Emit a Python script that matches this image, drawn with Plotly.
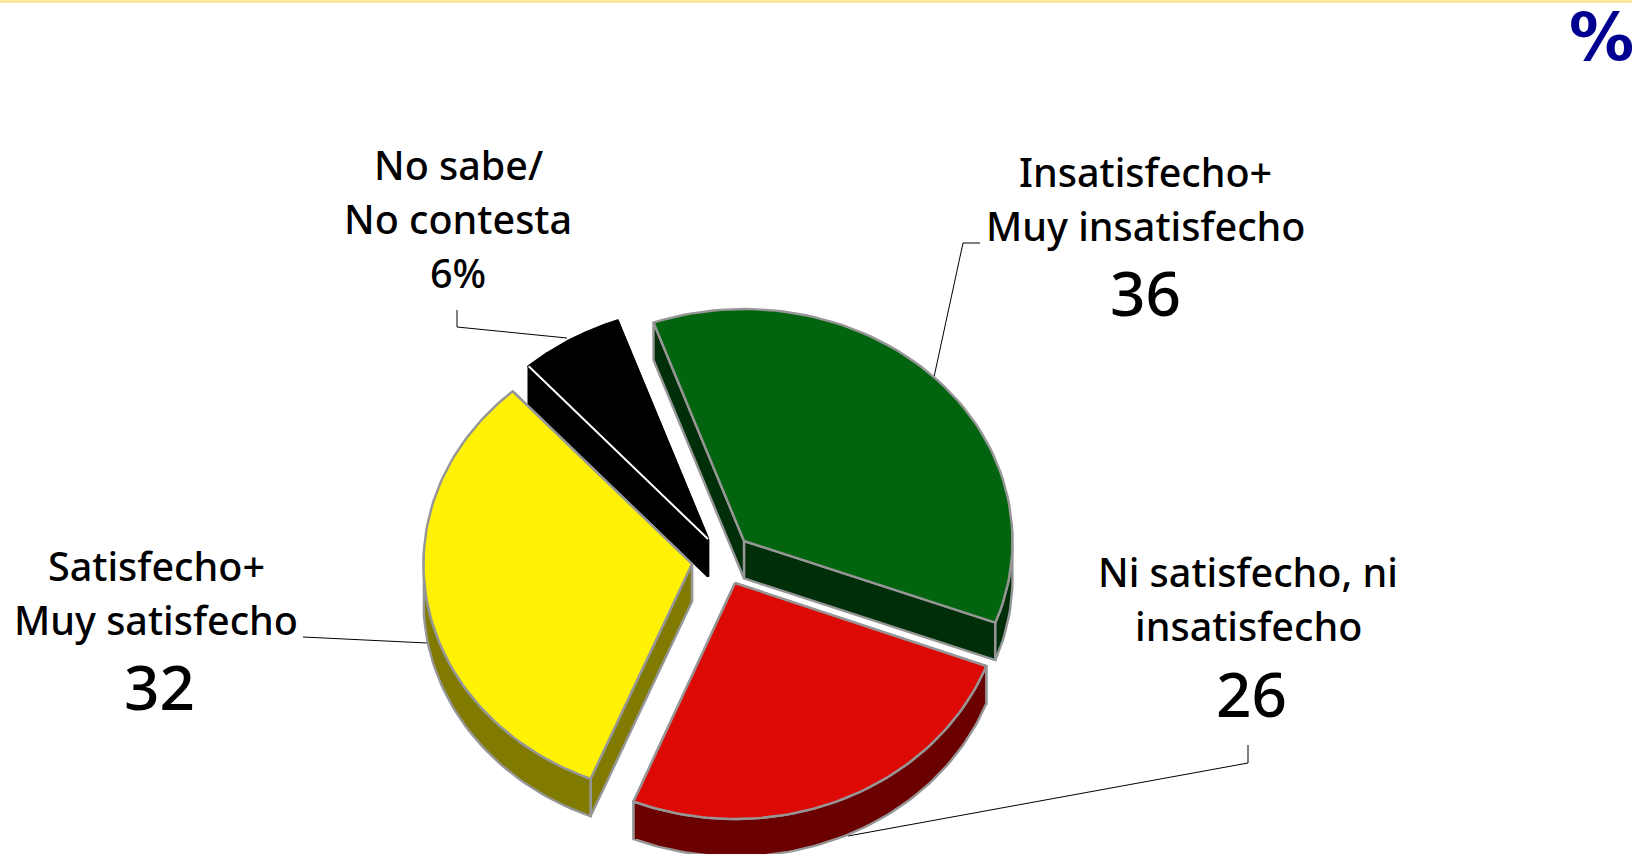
import numpy as np
import plotly.graph_objects as go

# ---- data ----
categories = ["Insatisfecho+<br>Muy insatisfecho", "Ni satisfecho, ni<br>insatisfecho",
              "Satisfecho+<br>Muy satisfecho", "No sabe/<br>No contesta"]
values = [36, 26, 32, 6]
value_labels = ["36", "26", "32", "6%"]

# ---- styling / layout constants (page pixels) ----
W, H = 1632, 854
top_colors = ["#036410", "#dd0904", "#fff205", "#000000"]
side_colors = ["#002e08", "#6b0000", "#807a00", "#000000"]
edge_colors = ["#969696", "#969696", "#969696", "#000000"]
apexes = [(744, 541), (735, 583), (692, 564), (708, 539)]
RX, DEPTH = 268.5, 37.5
slice_ry = [232, 236, 232, 232]
START_DEG = 340.3
# small perspective correction of each slice's end boundary, degrees
boundary_nudge = [0.7, -1.3, -0.6, 0.0]
FONT = "Noto Sans"

fig = go.Figure()
fracs = np.array(values) / sum(values)
ends = START_DEG + 360 * np.cumsum(fracs) + np.array(boundary_nudge)
starts = np.r_[START_DEG, ends[:-1]]
starts, ends = np.radians(starts), np.radians(ends)

def poly(x, y, fill, line, width=2.4):
    fig.add_trace(go.Scatter(x=list(x), y=list(y), mode="lines", fill="toself", fillcolor=fill,
                             line=dict(color=line, width=width), hoverinfo="skip", showlegend=False))

for i in [3, 2, 0, 1]:
    a = apexes[i]
    t = np.linspace(starts[i], ends[i], 80)
    ax, ay = a[0] + RX * np.sin(t), a[1] - slice_ry[i] * np.cos(t)
    # radial side faces: end edge first, start edge over it
    for k in (-1, 0):
        px, py = ax[k], ay[k]
        poly([a[0], px, px, a[0], a[0]], [a[1], py, py + DEPTH, a[1] + DEPTH, a[1]], side_colors[i], edge_colors[i])
    # outer rim: only the part facing downward
    mask = np.cos(t) < 0.05
    if mask.any():
        rx, ry = ax[mask], ay[mask]
        poly(np.r_[rx, rx[::-1], rx[0]], np.r_[ry, ry[::-1] + DEPTH, ry[0]], side_colors[i], edge_colors[i])
    # top face
    poly(np.r_[a[0], ax, a[0]], np.r_[a[1], ay, a[1]], top_colors[i], edge_colors[i])
    if i == 3:  # white highlight on the lower edge of the black slice
        fig.add_trace(go.Scatter(x=[a[0], ax[0]], y=[a[1], ay[0]], mode="lines",
                                 line=dict(color="#ffffff", width=2), hoverinfo="skip", showlegend=False))

# leader lines
leaders = [
    ([980, 963, 934], [243, 243, 377]),
    ([1248, 1248, 848], [745, 763, 836]),
    ([303, 427], [637, 643]),
    ([457, 457, 567], [310, 327, 338]),
]
shapes = []
for lx, ly in leaders:
    path = "M " + " L ".join(f"{x},{y}" for x, y in zip(lx, ly))
    shapes.append(dict(type="path", path=path, layer="below", line=dict(color="#000000", width=1)))
shapes.append(dict(type="line", x0=0, x1=W, y0=1.5, y1=1.5, line=dict(color="#fde68a", width=2.5), layer="below"))

annotations = []
# (centre x, centre y of first line)
label_pos = [(1145, 172), (1248, 572), (156, 566), (458, 165)]
LINE_GAP = 54
for i, (x, y) in enumerate(label_pos):
    for j, line in enumerate(categories[i].split("<br>")):
        annotations.append(dict(x=x, y=y + j * LINE_GAP, text=line, showarrow=False, xanchor="center",
                                yanchor="middle",
                                font=dict(family=FONT, size=39.5, color="#000000", weight=500)))
value_pos = [(1145, 292), (1251, 693), (159, 686), (458, 273)]
value_sizes = [62, 62, 62, 39.5]
for i, (x, y) in enumerate(value_pos):
    annotations.append(dict(x=x, y=y, text=value_labels[i], showarrow=False, xanchor="center", yanchor="middle",
                            font=dict(family=FONT, size=value_sizes[i], color="#000000", weight=500)))
annotations.append(dict(x=1567, y=37, text="<b>%</b>", showarrow=False, xanchor="left", yanchor="middle",
                        font=dict(family="DejaVu Sans", size=65, color="#000090")))

fig.update_layout(
    width=W, height=H, margin=dict(l=0, r=0, t=0, b=0), showlegend=False,
    paper_bgcolor="#ffffff", plot_bgcolor="#ffffff",
    xaxis=dict(range=[0, W], visible=False, fixedrange=True),
    yaxis=dict(range=[H, 0], visible=False, fixedrange=True),
    shapes=shapes, annotations=annotations,
)
fig.write_html("out.html", config={"displayModeBar": False},
               post_script="document.body.style.margin='0';document.body.style.overflow='hidden';")
